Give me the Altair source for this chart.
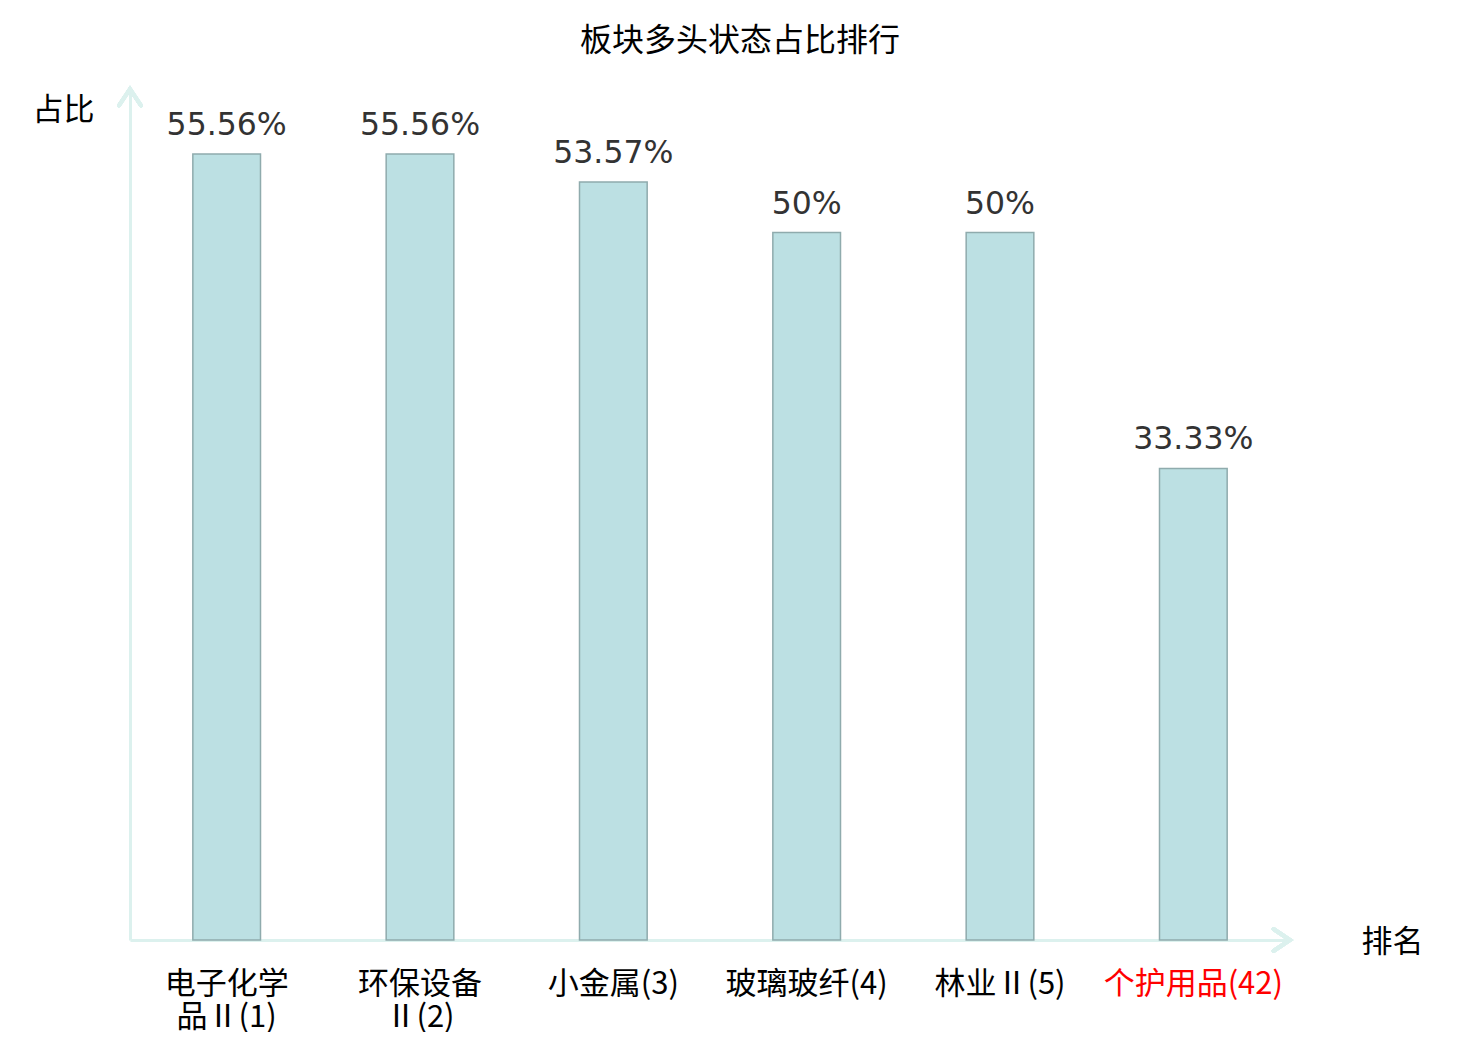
import altair as alt
import pandas as pd

categories = ["电子化学|品Ⅱ(1)", "环保设备|Ⅱ(2)", "小金属(3)", "玻璃玻纤(4)", "林业Ⅱ(5)", "个护用品(42)"]
values = [55.56, 55.56, 53.57, 50, 50, 33.33]
highlight = "个护用品(42)"

df = pd.DataFrame({
    "cat": categories,
    "val": values,
    "lab": [f"{v:g}%" for v in values],
})

AXIS_C = "#dcf1ee"
CJK = "Noto Sans CJK SC"

x = alt.X(
    "cat:N", sort=categories,
    scale=alt.Scale(paddingInner=0.65, paddingOuter=0.325),
    axis=alt.Axis(
        title="排名", titleFont=CJK, titleFontSize=31, titleFontWeight="normal",
        titleColor="#000", titleAngle=0, titleAlign="center", titleBaseline="middle",
        titleX=1262, titleY=2,
        labelFont=CJK, labelFontSize=31, labelAngle=0, labelPadding=29,
        labelLineHeight=33, labelExpr="split(datum.label, '|')",
        labelColor={"expr": f"datum.value == '{highlight}' ? '#ff0000' : '#000000'"},
        ticks=False, domainColor=AXIS_C, domainWidth=3,
    ),
)
y = alt.Y(
    "val:Q", scale=alt.Scale(domain=[0, 60.08], nice=False),
    axis=alt.Axis(
        title="占比", titleFont=CJK, titleFontSize=31, titleFontWeight="normal",
        titleColor="#000", titleAngle=0, titleAlign="center", titleBaseline="middle",
        titleX=-67, titleY=20,
        labels=False, ticks=False, grid=False, domainColor=AXIS_C, domainWidth=3,
    ),
)

base = alt.Chart(df)
bars = base.mark_bar(fill="#bce0e3", stroke="#8fabad", strokeWidth=1.5).encode(x=x, y=y)
text = base.mark_text(font="DejaVu Sans", fontSize=31.5, color="#333333",
                      baseline="bottom", dy=-12).encode(
    x=alt.X("cat:N", sort=categories), y="val:Q", text="lab:N")

arrow_up = base.mark_point(
    shape="M-1,1.5 L0,0 L1,1.5", filled=False, stroke=AXIS_C, strokeWidth=4, size=484,
    opacity=1, strokeCap="round", strokeJoin="miter",
).encode(x=alt.value(0), y=alt.value(-1))
arrow_right = base.mark_point(
    shape="M-1.5,-1 L0,0 L-1.5,1", filled=False, stroke=AXIS_C, strokeWidth=4, size=484,
    opacity=1, strokeCap="round", strokeJoin="miter",
).encode(x=alt.value(1160), y=alt.value(850))

chart = alt.layer(bars, text, arrow_up, arrow_right).properties(
    width=1160, height=850,
    title=alt.TitleParams("板块多头状态占比排行", font=CJK, fontSize=32, fontWeight="normal",
                          color="#000", anchor="middle", dx=30, offset=23),
    autosize=alt.AutoSizeParams(type="none"),
    padding={"left": 122, "top": 82, "right": 160, "bottom": 92},
).configure_view(stroke=None)

chart.save("out.html", embed_options={"renderer": "svg", "actions": False})
